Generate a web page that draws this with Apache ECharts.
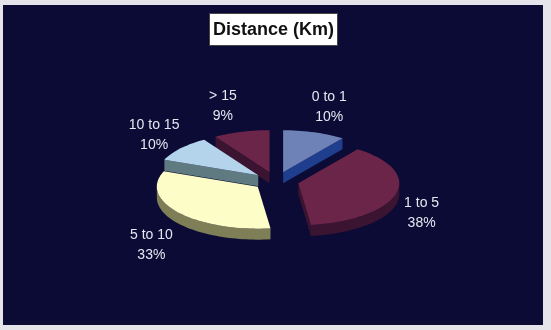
<!DOCTYPE html>
<html>
<head>
<meta charset="utf-8">
<script src="https://cdn.jsdelivr.net/npm/echarts@6/dist/echarts.min.js"></script>
<style>
html,body{margin:0;padding:0;background:#e4e4ea;}
#chart{width:551px;height:330px;}
</style>
</head>
<body>
<div id="chart"></div>
<script>
// ---- data ----
const categories = ['0 to 1', '1 to 5', '5 to 10', '10 to 15', '> 15'];
const percents = [10, 38, 33, 10, 9];
const topColors = ['#6e82b8', '#6b2549', '#fdfdc8', '#b4d4ec', '#6b2549'];
const sideColors = ['#1f3e8e', '#3a1430', '#7e7f56', '#5f7a80', '#3a1430'];

// ---- geometry of the tilted pie ----
const G = {
  cx: 276, cy: 181, rx: 101, ry: 42, h: 11,
  exX: 23, exY: 9.2,
  lcx: 274, lcy: 191, lrx: 140, lry: 88, lpad: 12
};

const total = percents.reduce((a, b) => a + b, 0);
const starts = [];
let acc = 0;
percents.forEach(v => { starts.push(acc / total * 360); acc += v; });

const rad = d => d * Math.PI / 180;

function renderItem(params, api) {
  const i = params.dataIndex;
  const v = api.value(1);
  const s = starts[i];
  const e = s + v / total * 360;
  const m = (s + e) / 2;
  const ox = G.cx + G.exX * Math.sin(rad(m));
  const oy = G.cy - G.exY * Math.cos(rad(m));
  const pt = (a, dy) => [ox + G.rx * Math.sin(rad(a)), oy - G.ry * Math.cos(rad(a)) + (dy || 0)];
  const arc = (a0, a1, dy) => {
    const pts = [];
    const n = Math.max(2, Math.ceil((a1 - a0) / 2));
    for (let k = 0; k <= n; k++) pts.push(pt(a0 + (a1 - a0) * k / n, dy));
    return pts;
  };
  const depth = Math.round((-Math.cos(rad(m)) + 1) * 100);
  const children = [];
  const side = sideColors[i];
  // radial wall at end angle
  if (Math.cos(rad(e + 90)) < 0) {
    const p = pt(e);
    children.push({ type: 'polygon', z2: depth * 10,
      shape: { points: [[ox, oy], p, [p[0], p[1] + G.h], [ox, oy + G.h]] },
      style: { fill: side } });
  }
  // radial wall at start angle
  if (Math.cos(rad(s - 90)) < 0) {
    const p = pt(s);
    children.push({ type: 'polygon', z2: depth * 10,
      shape: { points: [[ox, oy], p, [p[0], p[1] + G.h], [ox, oy + G.h]] },
      style: { fill: side } });
  }
  // outer curved wall
  const a0 = Math.max(s, 90), a1 = Math.min(e, 270);
  if (a1 > a0) {
    const topArc = arc(a0, a1, 0);
    const botArc = arc(a0, a1, G.h).reverse();
    children.push({ type: 'polygon', z2: depth * 10 + 1,
      shape: { points: topArc.concat(botArc) },
      style: { fill: side } });
  }
  // top face
  children.push({ type: 'polygon', z2: depth * 10 + 2,
    shape: { points: [[ox, oy]].concat(arc(s, e, 0)) },
    style: { fill: topColors[i] } });
  // label
  const sn = Math.sin(rad(m));
  const lx = G.lcx + G.lrx * sn + Math.sign(sn) * G.lpad;
  const ly = G.lcy - G.lry * Math.cos(rad(m));
  children.push({ type: 'text', z2: 5000, x: lx, y: ly,
    style: {
      text: categories[i] + '\n' + Math.round(v / total * 100) + '%',
      fill: '#e6e6f0', font: '14px "Liberation Sans", Arial, sans-serif',
      align: 'center', verticalAlign: 'middle', lineHeight: 20
    } });
  return { type: 'group', children: children };
}

const chart = echarts.init(document.getElementById('chart'), null, { renderer: 'canvas' });
chart.setOption({
  backgroundColor: '#e4e4ea',
  animation: false,
  graphic: [{
    type: 'rect', z: -10, silent: true,
    shape: { x: 3, y: 5, width: 540, height: 320 },
    style: { fill: '#0b0b36' }
  }],
  title: {
    text: 'Distance (Km)',
    left: 209, top: 13,
    padding: [7, 4, 6, 4],
    backgroundColor: '#ffffff',
    borderColor: '#444',
    borderWidth: 1,
    textStyle: {
      color: '#111', fontSize: 18, fontWeight: 'bold',
      fontFamily: '"Liberation Sans", Arial, sans-serif', lineHeight: 20
    }
  },
  series: [{
    type: 'custom',
    coordinateSystem: 'none',
    renderItem: renderItem,
    data: categories.map((c, i) => ({ name: c, value: [i, percents[i]] }))
  }]
});
</script>
</body>
</html>
